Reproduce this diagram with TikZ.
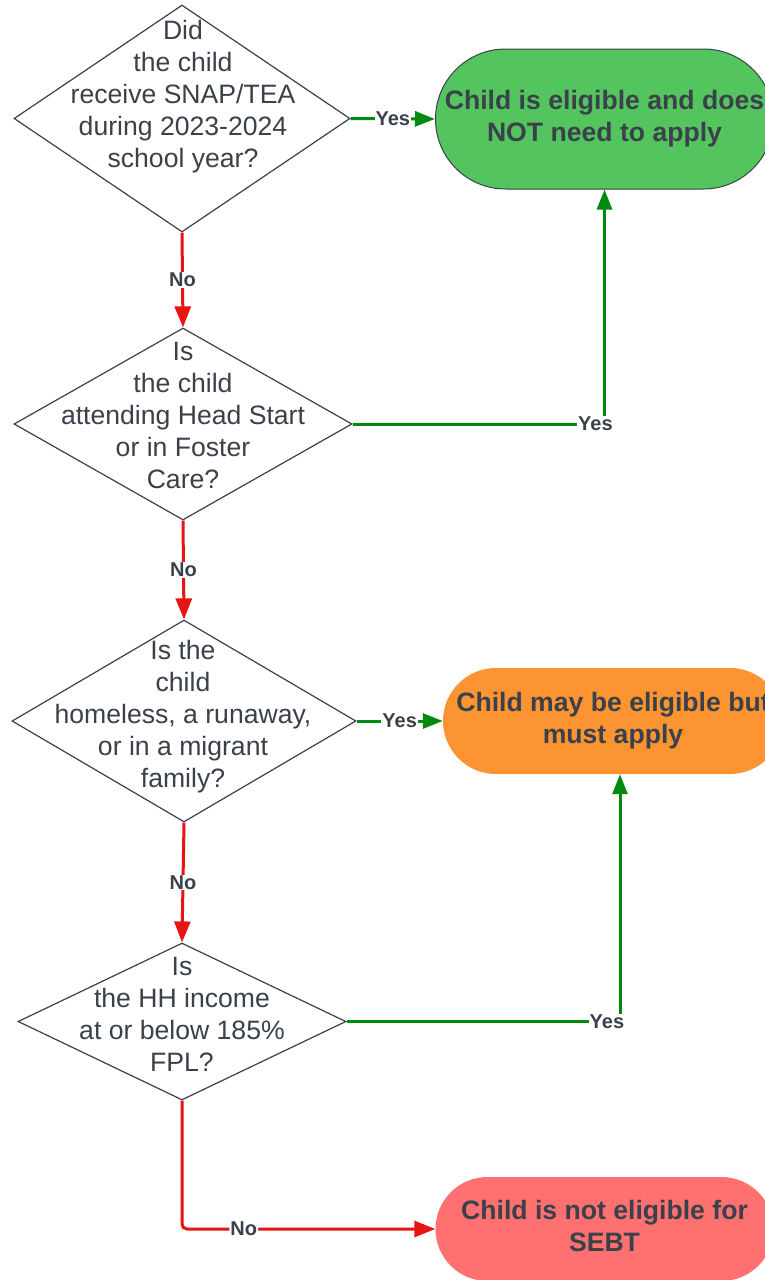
\documentclass[tikz,border=0pt]{standalone}
\usepackage{fontspec}
\setmainfont{Liberation Sans}
\usetikzlibrary{shapes.geometric,arrows.meta}
\definecolor{ink}{HTML}{3A414A}
\definecolor{yesgreen}{HTML}{008A0E}
\definecolor{nored}{HTML}{E81313}
\definecolor{okfill}{HTML}{54C45E}
\definecolor{applyfill}{HTML}{FC9432}
\definecolor{notfill}{HTML}{FF7070}
\begin{document}
\begin{tikzpicture}[x=1pt,y=-1pt,
    question/.style={diamond,draw=ink,line width=1.2pt,inner sep=0pt},
    qtext/.style={align=center,text=ink,inner sep=0pt,font=\fontsize{26.6}{32}\selectfont},
    outcome/.style={rectangle,inner sep=0pt,align=center,text=ink,font=\fontsize{26.6}{32}\selectfont\bfseries},
    yes/.style={draw=yesgreen,line width=3pt,-{Triangle[length=20pt,width=15pt]}},
    no/.style={draw=nored,line width=3pt,-{Triangle[length=21pt,width=16pt]}},
    tag/.style={fill=white,inner sep=1pt,text=ink,font=\fontsize{20}{23}\selectfont\bfseries}]
    \clip (0,0) rectangle (765,1280);
    \fill[white] (0,0) rectangle (765,1280);
    \node[question,minimum width=336pt,minimum height=227pt] (q1) at (182,118.5) {};
    \node[question,minimum width=338pt,minimum height=192pt] (q2) at (183,424) {};
    \node[question,minimum width=344pt,minimum height=202pt] (q3) at (184,721) {};
    \node[question,minimum width=328pt,minimum height=157pt] (q4) at (182,1021.5) {};
    \node[qtext] (q1text) at (183,96.5) {Did\\the child\\receive SNAP/TEA\\during 2023-2024\\school year?};
    \node[qtext] (q2text) at (183,415) {Is\\the child\\attending Head Start\\or in Foster\\Care?};
    \node[qtext] (q3text) at (183,717) {Is the\\child\\homeless, a runaway,\\or in a migrant\\family?};
    \node[qtext] (q4text) at (182,1014) {Is\\the HH income\\at or below 185\%\\FPL?};
    \node[outcome,draw=ink,line width=1pt,fill=okfill,minimum width=338pt,minimum height=140pt,rounded corners=70pt] (ok) at (604.5,119) {Child is eligible and does\\NOT need to apply};
    \node[outcome,fill=applyfill,minimum width=340pt,minimum height=106pt,rounded corners=53pt] (apply) at (613,721) {Child may be eligible but\\must apply};
    \node[outcome,fill=notfill,minimum width=338pt,minimum height=104pt,rounded corners=52pt] (notok) at (604.5,1229) {};
    \node[outcome] (notoktext) at (604.5,1226) {Child is not eligible for\\SEBT};
    \draw[yes] (q1.east) -- node[tag] (yes1) {Yes} (ok.west);
    \draw[no] (q1.south) -- node[tag] (no1) {No} (q2.north);
    \draw[yes] (q2.east) -| node[tag,pos=0.482] (yes2) {Yes} (ok.south);
    \draw[no] (q2.south) -- node[tag] (no2) {No} (q3.north);
    \draw[yes] (q3.east) -- node[tag] (yes3) {Yes} (apply.west);
    \draw[no] (q3.south) -- node[tag] (no3) {No} (q4.north);
    \draw[yes] (q4.east) -| node[tag,pos=0.476] (yes4) {Yes} ([xshift=7pt]apply.south);
    \draw[no,rounded corners=5pt] (q4.south) |- node[tag,pos=0.622] (no4) {No} (notok.west);
\end{tikzpicture}
\end{document}
